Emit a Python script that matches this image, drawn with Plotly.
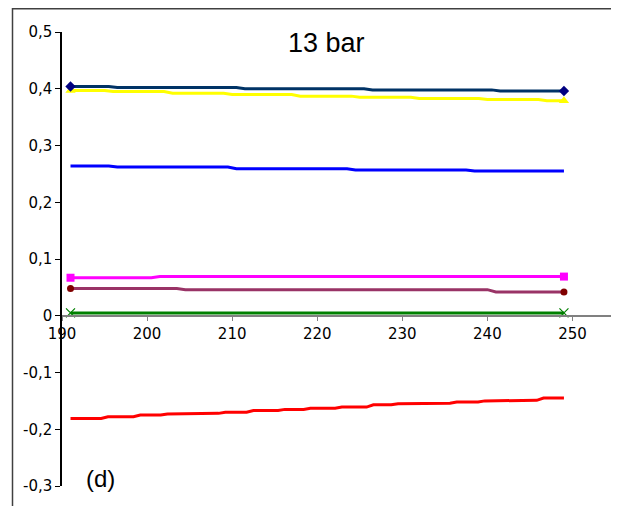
import plotly.graph_objects as go

# ---- data ----
navy_x = [191, 195.5, 196.5, 210.5, 211.5, 225.5, 226.5, 240.5, 241.5, 249]
navy_y = [0.404, 0.404, 0.402, 0.402, 0.400, 0.400, 0.398, 0.398, 0.396, 0.396]

yellow_x = [191, 195, 196, 202, 203, 209, 210, 217, 218, 224, 225, 231, 232, 239, 240, 246, 247, 249]
yellow_y = [0.397, 0.397, 0.395, 0.395, 0.392, 0.392, 0.390, 0.390, 0.387, 0.387,
            0.385, 0.385, 0.383, 0.383, 0.381, 0.381, 0.379, 0.379]

blue_x = [191, 195.5, 196.5, 209.5, 210.5, 223.5, 224.5, 237.5, 238.5, 249]
blue_y = [0.264, 0.264, 0.262, 0.262, 0.259, 0.259, 0.257, 0.257, 0.255, 0.255]

magenta_x = [191, 200.5, 201.5, 249]
magenta_y = [0.067, 0.067, 0.069, 0.069]

maroon_x = [191, 203.5, 204.5, 240, 241, 249]
maroon_y = [0.048, 0.048, 0.046, 0.046, 0.042, 0.042]

green_x = [191, 249]
green_y = [0.005, 0.005]

red_x = [191, 194.6, 195.4, 198.4, 199.2, 201.6, 202.4, 204.8, 205.6, 208.4, 209.2, 211.7,
         212.5, 215.4, 216.2, 218.4, 219.2, 222.1, 222.9, 225.8, 226.6, 228.7, 229.5, 232.5,
         233.3, 235.6, 236.4, 238.9, 239.7, 242.5, 243.3, 245.8, 246.6, 249]
red_y = [-0.181, -0.181, -0.178, -0.178, -0.175, -0.175, -0.173, -0.173, -0.172, -0.172,
         -0.170, -0.170, -0.167, -0.167, -0.165, -0.165, -0.163, -0.163, -0.161, -0.161,
         -0.157, -0.157, -0.155, -0.155, -0.154, -0.154, -0.152, -0.152, -0.150, -0.150,
         -0.149, -0.149, -0.145, -0.145]

x_ticks = [190, 200, 210, 220, 230, 240, 250]
x_tick_labels = ["190", "200", "210", "220", "230", "240", "250"]
y_ticks = [-0.3, -0.2, -0.1, 0, 0.1, 0.2, 0.3, 0.4, 0.5]
y_tick_labels = ["-0,3", "-0,2", "-0,1", "0", "0,1", "0,2", "0,3", "0,4", "0,5"]

title_text = "13 bar"
panel_label = "(d)"

# ---- figure ----
fig = go.Figure()

def add_series(xs, ys, line_color, marker_symbol=None, marker_color=None, marker_size=8):
    fig.add_trace(go.Scatter(x=xs, y=ys, mode="lines",
                             line=dict(color=line_color, width=3),
                             showlegend=False, hoverinfo="skip"))
    if marker_symbol is not None:
        fig.add_trace(go.Scatter(x=[xs[0], xs[-1]], y=[ys[0], ys[-1]], mode="markers",
                                 marker=dict(symbol=marker_symbol, color=marker_color,
                                             size=marker_size,
                                             line=dict(width=1.2 if "x-thin" in marker_symbol else 0,
                                                       color=marker_color)),
                                 showlegend=False, hoverinfo="skip"))

add_series(red_x, red_y, "#FF0000")
add_series(green_x, green_y, "#008000", "x-thin", "#008000", 9)
add_series(maroon_x, maroon_y, "#993366", "circle", "#800000", 7)
add_series(magenta_x, magenta_y, "#FF00FF", "square", "#FF00FF", 8)
add_series(blue_x, blue_y, "#0000FF")
add_series(yellow_x, yellow_y, "#FFFF00", "triangle-up", "#FFFF00", 9)
add_series(navy_x, navy_y, "#003366", "diamond", "#000080", 8)

# the page puts the figure 8px in from the window's top-left corner
OFF = 8
W, H = 611, 498
L, R, T, B = 54, 4, 24, 20
pw, ph = W - L - R, H - T - B

def px_x(wx):
    return (wx - OFF - L) / pw

def px_y(wy):
    return (H - B - (wy - OFF)) / ph

tick_font = dict(family="DejaVu Sans", size=15, color="#000000")

fig.update_layout(
    width=W, height=H,
    margin=dict(l=L, r=R, t=T, b=B),
    paper_bgcolor="white", plot_bgcolor="white",
    font=dict(family="DejaVu Sans", size=15, color="#000000"),
    xaxis=dict(range=[190, 255], tickmode="array", tickvals=x_ticks, ticktext=x_tick_labels,
               anchor="free", position=(0 - (-0.3)) / 0.8,
               showline=True, linecolor="#808080", linewidth=1.5,
               ticks="outside", ticklen=4, tickcolor="#808080", tickwidth=1,
               showgrid=False, zeroline=False, tickfont=tick_font),
    yaxis=dict(range=[-0.3, 0.5], tickmode="array", tickvals=y_ticks, ticktext=y_tick_labels,
               showline=True, linecolor="#000000", linewidth=1.5,
               ticks="outside", ticklen=5, tickcolor="#000000", tickwidth=1,
               showgrid=False, zeroline=False, tickfont=tick_font),
)

fig.add_annotation(text=title_text, x=px_x(326), y=px_y(43), xref="paper", yref="paper",
                   showarrow=False, font=dict(family="Arial, Liberation Sans, sans-serif",
                                              size=27, color="#000000"),
                   xanchor="center", yanchor="middle")
fig.add_annotation(text=panel_label, x=px_x(100), y=px_y(478), xref="paper", yref="paper",
                   showarrow=False, font=dict(family="Arial, Liberation Sans, sans-serif",
                                              size=24, color="#000000"),
                   xanchor="center", yanchor="middle")

# outer frame: only its left and top edges are inside the picture
fx0, fx1 = px_x(12.5), px_x(640)
fy0, fy1 = px_y(530), px_y(8.8)
fig.add_shape(type="path", xref="paper", yref="paper",
              path=f"M {fx0},{fy0} L {fx0},{fy1} L {fx1},{fy1}",
              line=dict(color="#404040", width=1.5), layer="below")

fig.write_html("out.html")
